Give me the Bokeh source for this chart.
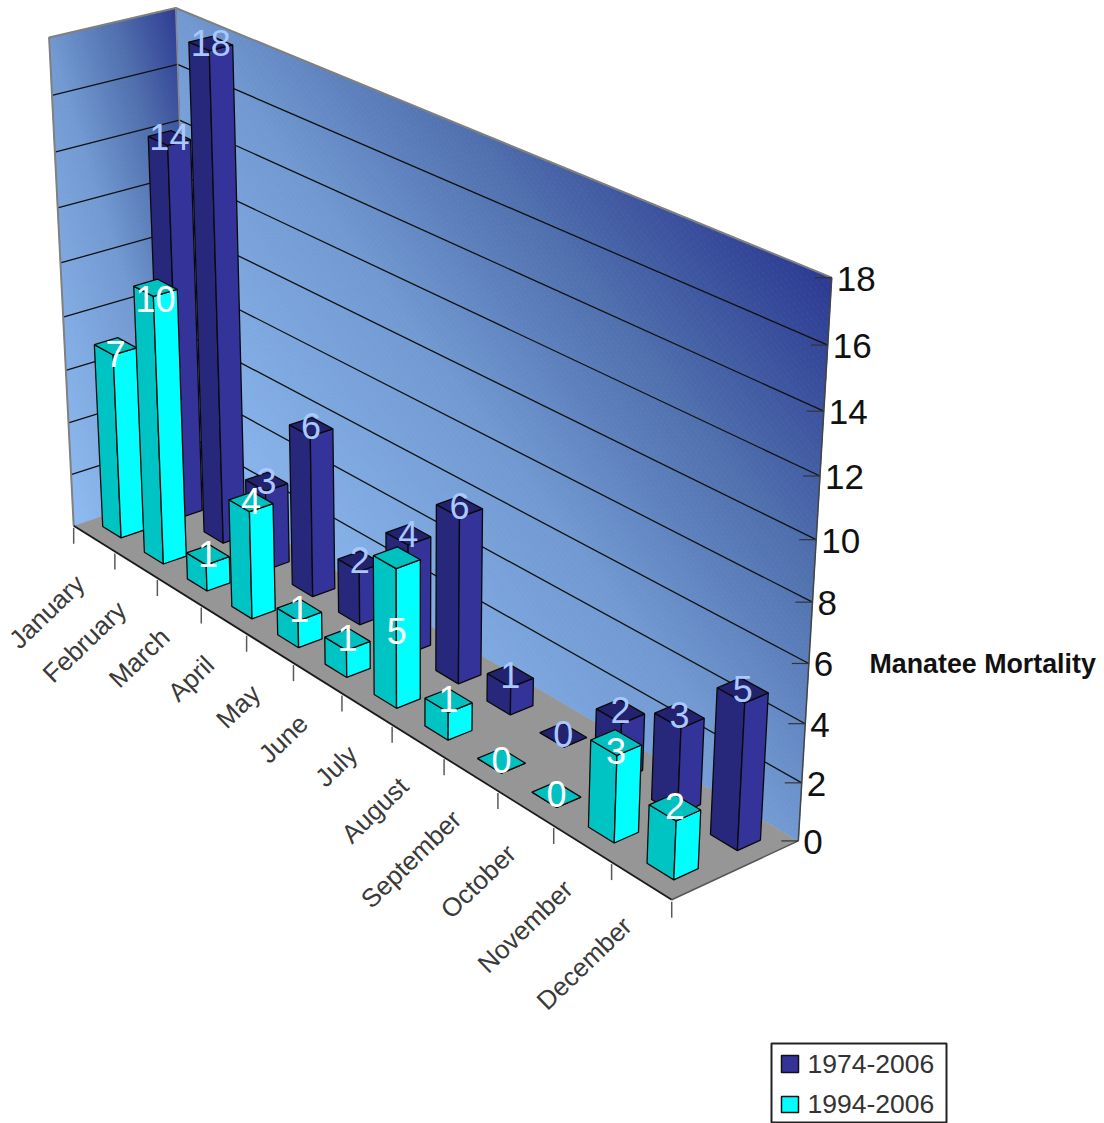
import numpy as np
from bokeh.plotting import figure
from bokeh.models import Range1d
from bokeh.core.properties import value
from bokeh.embed import file_html
from bokeh.resources import INLINE

months = ["January", "February", "March", "April", "May", "June", "July",
          "August", "September", "October", "November", "December"]
series_back = [14, 18, 3, 6, 2, 4, 6, 1, 0, 2, 3, 5]      # 1974-2006
series_front = [7, 10, 1, 4, 1, 1, 5, 1, 0, 0, 3, 2]      # 1994-2006
series_names = ["1974-2006", "1994-2006"]
value_ticks = list(range(0, 19, 2))
FONT = value("Liberation Sans")

# Camera: least-squares perspective fit (month, depth, value) -> page pixels
calib = [((0, 0, 0), (72, 524)), ((12, 0, 0), (671, 900)), ((12, 1, 0), (798, 840)),
         ((0, 1, 18), (175, 8)), ((12, 1, 18), (832, 278)), ((0, 0, 18), (49, 37)),
         ((0, 1, 16), (176, 63)), ((12, 1, 10), (815, 538)), ((0, 0, 10), (61, 263)),
         ((0, 1, 0), (192, 487))]
A, b = [], []
for (X, Y, Z), (u, w) in calib:
    A.append([X, Y, Z, 1, 0, 0, 0, 0, -u*X, -u*Y, -u*Z]); b.append(u)
    A.append([0, 0, 0, 0, X, Y, Z, 1, -w*X, -w*Y, -w*Z]); b.append(w)
P = np.append(np.linalg.lstsq(np.array(A, float), np.array(b, float), rcond=None)[0], 1).reshape(3, 4)


def proj(m, d, v):
    q = P @ np.array([m, d, v, 1.0])
    return float(q[0]/q[2]), float(q[1]/q[2])


def poly(pts):
    c = [proj(*p) for p in pts]
    return [a[0] for a in c], [a[1] for a in c]


p = figure(width=1104, height=1123, x_range=Range1d(0, 1104), y_range=Range1d(1123, 0),
           output_backend="svg", toolbar_location=None, min_border=0,
           outline_line_color=None, background_fill_color="white", border_fill_color="white")
p.axis.visible = False
p.grid.visible = False

# Walls with diagonal gradient, drawn as bands between lines u + w = s
STOP_S = [0, 1, 1.5, 2]
STOP_RGB = [(0x8E, 0xBC, 0xF2), (0x72, 0x99, 0xD2), (0x50, 0x70, 0xAE), (0x2C, 0x3A, 0x92)]


def shade(s):
    return "#%02x%02x%02x" % tuple(int(np.interp(s, STOP_S, [c[i] for c in STOP_RGB])) for i in range(3))


def ends(s):
    a = min(s, 1.0)
    return (a, s-a), (s-a, a)


xs, ys, cs = [], [], []
K = 90
for wall in ("back", "left"):
    for k in range(2*K):
        s0, s1 = k/K, (k+1)/K
        (a0, a1), (b0, b1) = ends(s0), ends(s1)
        uv = [a0, b0, b1, a1]
        if wall == "back":
            x, y = poly([(12*u, 1, 18*w) for u, w in uv])
        else:
            x, y = poly([(0, u, 18*w) for u, w in uv])
        xs.append(x); ys.append(y); cs.append(shade((s0+s1)/2))
p.patches(xs, ys, fill_color=cs, line_color=cs, line_width=0.8)

# Gridlines on the two walls
for v in value_ticks[1:-1]:
    x, y = poly([(0, 0, v), (0, 1, v), (12, 1, v)])
    p.line(x, y, line_color="#111111", line_width=1.3)

# Floor
x, y = poly([(0, 0, 0), (12, 0, 0), (12, 1, 0), (0, 1, 0)])
p.patch(x, y, fill_color="#969696", line_color=None)

# Wall outline
x, y = poly([(0, 0, 0), (0, 0, 18), (0, 1, 18), (12, 1, 18)])
p.line(x, y, line_color="#808080", line_width=2)
x, y = poly([(0, 1, 18), (0, 1, 0)])
p.line(x, y, line_color="#8a8a8a", line_width=1.5)
x, y = poly([(12, 1, 18), (12, 1, 0)])
p.line(x, y, line_color="#444444", line_width=1.5)
x, y = poly([(0, 0, 0), (12, 0, 0)])
p.line(x, y, line_color="#1a1a1a", line_width=1.8)
x, y = poly([(12, 0, 0), (12, 1, 0)])
p.line(x, y, line_color="#555555", line_width=1.5)

# Bars: back series first, each January to December
BAR_M = (0.27, 0.715)
front_label_shift = {0: 9, 1: 12, 6: 74, 10: 9}   # labels the reference sets lower than the bar top
layers = [(series_back, (0.65, 0.835), "#27277B", "#333399", "#22226E", "#A8C8FF", {}),
          (series_front, (0.15, 0.34), "#00C4C4", "#00FFFF", "#00C0C0", "#FFFFFF", front_label_shift)]
bx, by, bc = [], [], []
lx, ly, lt, lc = [], [], [], []
for vals, (d0, d1), c_front, c_side, c_top, c_label, shift in layers:
    for i, v in enumerate(vals):
        m0, m1 = i + BAR_M[0], i + BAR_M[1]
        for pts, col in [([(m0, d0, 0), (m1, d0, 0), (m1, d0, v), (m0, d0, v)], c_front),
                         ([(m1, d0, 0), (m1, d1, 0), (m1, d1, v), (m1, d0, v)], c_side),
                         ([(m0, d0, v), (m1, d0, v), (m1, d1, v), (m0, d1, v)], c_top)]:
            x, y = poly(pts)
            bx.append(x); by.append(y); bc.append(col)
        cx, cy = proj((m0+m1)/2, (d0+d1)/2, v)
        lx.append(cx); ly.append(cy - 1 + shift.get(i, 0)); lt.append(str(v)); lc.append(c_label)
p.patches(bx, by, fill_color=bc, line_color="#0a0a0a", line_width=1.3)
p.text(lx, ly, text=lt, text_color=lc, text_font=FONT, text_font_size="36px",
       text_align="center", text_baseline="middle")

# Month ticks and labels
for i in range(13):
    x, y = proj(i, 0, 0)
    p.line([x, x], [y+2, y+18], line_color="#5a5a5a", line_width=1.5)
tx, ty = zip(*[proj(i+0.5, 0, 0) for i in range(12)])
p.text([a-14 for a in tx], [a+41 for a in ty], text=months, angle=44, angle_units="deg",
       text_font=FONT, text_font_size="26px", text_color="#3a3a3a",
       text_align="right", text_baseline="middle")

# Value ticks and labels
vx, vy = zip(*[proj(12, 1, v) for v in value_ticks])
for a, c in zip(vx, vy):
    p.line([a-17, a], [c, c], line_color="#333333", line_width=1.2)
p.text([a+5 for a in vx], [c+1 for c in vy], text=[str(v) for v in value_ticks], text_font=FONT,
       text_font_size="35px", text_color="#111111", text_align="left", text_baseline="middle")

p.text([869], [663], text=["Manatee Mortality"], text_font=FONT, text_font_size="26.8px",
       text_font_style="bold", text_color="#111111", text_align="left", text_baseline="middle")

# Legend
p.quad(left=[771], right=[946], top=[1043], bottom=[1122], fill_color="white",
       line_color="#222222", line_width=2)
p.quad(left=[781, 781], right=[798, 798], top=[1055, 1096], bottom=[1072, 1112],
       fill_color=["#333399", "#00FFFF"], line_color="#111111", line_width=1.5)
p.text([807, 807], [1063, 1103], text=series_names, text_font=FONT, text_font_size="26.5px",
       text_color="#333333", text_align="left", text_baseline="middle")

open("out.html", "w").write(file_html(p, INLINE))
